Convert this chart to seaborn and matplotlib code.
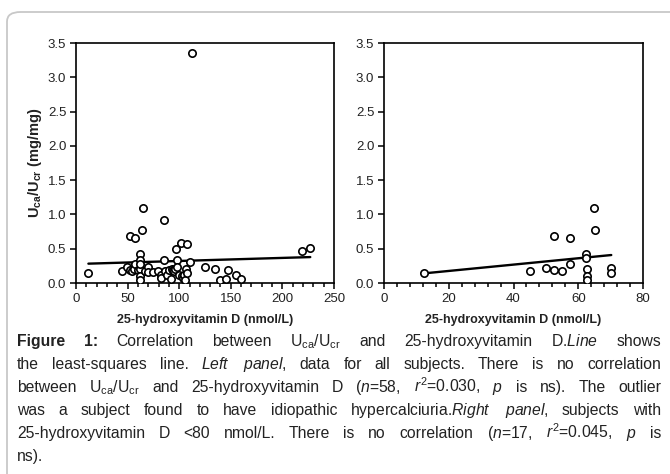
import numpy as np
import pandas as pd
import matplotlib
matplotlib.use("Agg")
import matplotlib.pyplot as plt
from matplotlib.patches import FancyBboxPatch
from matplotlib.ticker import MultipleLocator, FormatStrFormatter
from matplotlib.transforms import IdentityTransform
import seaborn as sns

sns.set_theme(style="ticks")
plt.rcParams['font.family'] = ['Liberation Sans', 'DejaVu Sans']
plt.rcParams['mathtext.fontset'] = 'custom'
plt.rcParams['mathtext.rm'] = 'Liberation Sans'
plt.rcParams['mathtext.it'] = 'Liberation Sans:italic'
plt.rcParams['mathtext.bf'] = 'Liberation Sans:bold'
plt.rcParams['mathtext.default'] = 'rm'

# Left panel: all subjects (25-OH vitamin D vs Uca/Ucr)
vitd_all = [12, 45, 49, 52, 52, 54, 56, 57, 57, 60, 62, 62, 62, 62, 62,
            64, 65, 67, 70, 70, 75, 79, 82, 82, 85, 85, 86, 88, 90, 92,
            93, 94, 95, 96, 97, 98, 98, 100, 102, 103, 104, 105, 106, 107, 108,
            108, 110, 112, 125, 135, 140, 145, 147, 155, 160, 219, 227, 62]
ratio_all = [0.14, 0.17, 0.23, 0.19, 0.68, 0.17, 0.21, 0.65, 0.28, 0.19, 0.42, 0.34, 0.21, 0.10, 0.05,
             0.77, 1.10, 0.17, 0.23, 0.16, 0.16, 0.17, 0.12, 0.08, 0.33, 0.92, 0.17, 0.12, 0.19, 0.06,
             0.21, 0.19, 0.17, 0.20, 0.50, 0.34, 0.24, 0.12, 0.59, 0.10, 0.07, 0.12, 0.05, 0.21, 0.57,
             0.14, 0.31, 3.36, 0.23, 0.21, 0.05, 0.06, 0.19, 0.12, 0.06, 0.46, 0.51, 0.27]

# Right panel: subjects with 25-OH vitamin D < 80 nmol/L
vitd_low = [12.4, 45, 49.9, 52.5, 52.5, 54.9, 57.4, 57.6, 62.5, 62.5, 62.6, 62.6, 62.6,
            64.9, 65.1, 70.2, 70.2]
ratio_low = [0.15, 0.17, 0.22, 0.68, 0.19, 0.17, 0.27, 0.66, 0.42, 0.36, 0.21, 0.10, 0.05,
             1.09, 0.77, 0.22, 0.15]

xlabel = "25-hydroxyvitamin D (nmol/L)"
ylabel = r"$\mathbf{U_{ca}/U_{cr}}$ (mg/mg)"

caption = [
    "**Figure **1: Correlation between U$_{ca}$/U$_{cr}$ and 25-hydroxyvitamin D.$\\mathit{Line}$ shows",
    "the least-squares line. $\\mathit{Left}$ $\\mathit{panel}$, data for all subjects. There is no correlation",
    "between U$_{ca}$/U$_{cr}$ and 25-hydroxyvitamin D ($\\mathit{n}$=58, $\\mathit{r}^2$=0.030, $\\mathit{p}$ is ns). The outlier",
    "was a subject found to have idiopathic hypercalciuria.$\\mathit{Right}$ $\\mathit{panel}$, subjects with",
    "25-hydroxyvitamin D <80 nmol/L. There is no correlation ($\\mathit{n}$=17, $\\mathit{r}^2$=0.045, $\\mathit{p}$ is",
    "ns).",
]

W, H = 670, 474
fig = plt.figure(figsize=(W / 100, H / 100), dpi=100)

# rounded frame around the figure
box = FancyBboxPatch((7 / W, -0.2), 1.2, 1.2 - 12 / H, boxstyle="round,pad=0,rounding_size=0.02",
                     transform=fig.transFigure, fill=False, edgecolor="#c8c8c8", lw=1.3)
fig.patches.append(box)

ax0 = fig.add_axes([76 / W, 1 - 283 / H, 258 / W, 240 / H])
ax1 = fig.add_axes([384 / W, 1 - 283 / H, 259 / W, 240 / H])

scat = dict(facecolors="white", edgecolors="black", s=28, linewidths=1.2, alpha=1, zorder=3)
line = dict(color="black", lw=1.7, zorder=2)

df_all = pd.DataFrame({"vitd": vitd_all, "ratio": ratio_all})
df_low = pd.DataFrame({"vitd": vitd_low, "ratio": ratio_low})

sns.regplot(data=df_all, x="vitd", y="ratio", ci=None, ax=ax0, scatter_kws=scat, line_kws=line)
sns.regplot(data=df_low, x="vitd", y="ratio", ci=None, ax=ax1, scatter_kws=scat, line_kws=line)

for ax, xmax, major, minor in [(ax0, 250, 50, 10), (ax1, 80, 20, 4)]:
    ax.set_xlim(0, xmax)
    ax.set_ylim(0, 3.5)
    ax.xaxis.set_major_locator(MultipleLocator(major))
    ax.xaxis.set_minor_locator(MultipleLocator(minor))
    ax.yaxis.set_major_locator(MultipleLocator(0.5))
    ax.yaxis.set_major_formatter(FormatStrFormatter("%.1f"))
    ax.tick_params(which="major", direction="out", length=4, width=1.1, labelsize=9.5,
                   color="black", labelcolor="#222222", pad=3)
    ax.tick_params(which="minor", axis="x", direction="out", length=3, width=1.1, color="black")
    ax.tick_params(which="minor", axis="y", length=0)
    for s in ax.spines.values():
        s.set_visible(True)
        s.set_color("black")
        s.set_linewidth(1.2)
    ax.set_xlabel(xlabel, fontsize=9, fontweight="bold", labelpad=7, color="#222222")
    ax.set_ylabel("")

ax0.set_ylabel(ylabel, fontsize=10.5, fontweight="bold", labelpad=3, color="#222222")

# justified caption
fig.canvas.draw()
r = fig.canvas.get_renderer()
x_left, x_right = 17, 661
y0, dy = H - 346, 23
CAP = 11.3
for i, ln in enumerate(caption):
    words = ln.split(" ")
    arts = []
    for w in words:
        bold = w.startswith("**")
        if bold:
            w = w.strip("*")
        t = fig.text(0, 0, w, fontsize=CAP, color="#222222",
                     fontweight="bold" if bold else "normal", transform=IdentityTransform(),
                     va="baseline", ha="left")
        arts.append(t)
    widths = [a.get_window_extent(renderer=r).width for a in arts]
    if i < len(caption) - 1:
        gap = (x_right - x_left - sum(widths)) / (len(words) - 1)
    else:
        gap = 3.5
    x = x_left
    y = y0 - i * dy
    for a, wd in zip(arts, widths):
        a.set_position((x, y))
        x += wd + gap

fig.savefig("out.png", dpi=100)
